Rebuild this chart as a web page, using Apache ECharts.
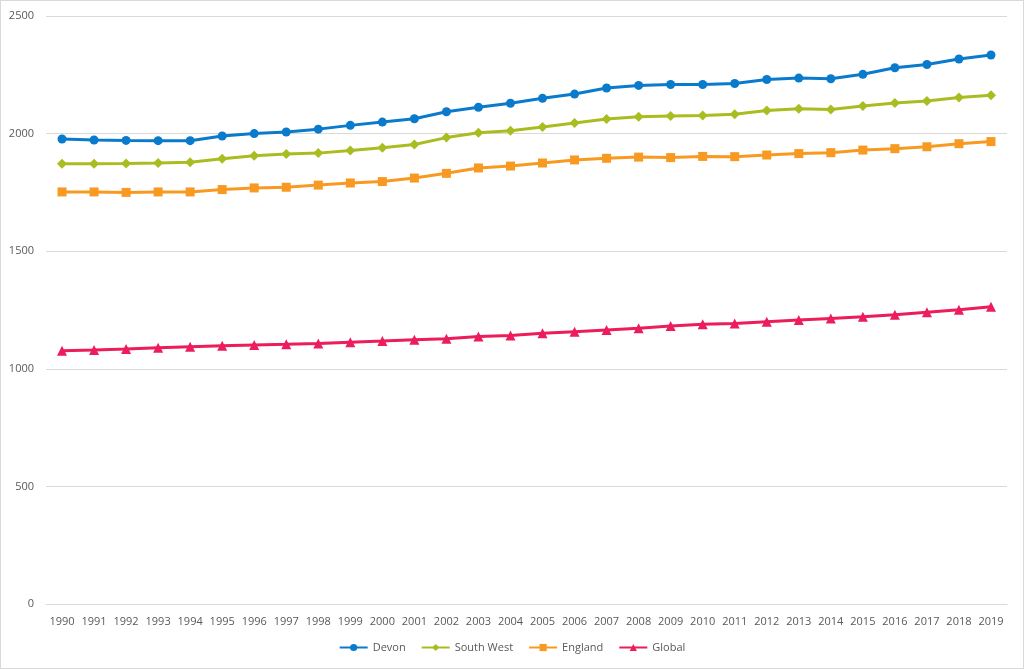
<!DOCTYPE html>
<html>
<head>
<meta charset="utf-8">
<style>
  html, body { margin: 0; padding: 0; background: #fff; }
  #chart { width: 1022px; height: 667px; border: 1px solid #d9d9d9; }
</style>
<script src="https://cdn.jsdelivr.net/npm/echarts@6/dist/echarts.min.js"></script>
</head>
<body>
<div id="chart"></div>
<script>
// years on x axis
const years = ['1990', '1991', '1992', '1993', '1994', '1995', '1996', '1997', '1998', '1999',
  '2000', '2001', '2002', '2003', '2004', '2005', '2006', '2007', '2008', '2009',
  '2010', '2011', '2012', '2013', '2014', '2015', '2016', '2017', '2018', '2019']

const devon = [1977, 1973, 1971, 1970, 1970, 1990, 2000, 2007, 2019, 2035,
  2049, 2063, 2093, 2112, 2129, 2150, 2168, 2194, 2205, 2209,
  2209, 2213, 2230, 2236, 2233, 2252, 2280, 2294, 2317, 2334]

const southWest = [1872, 1872, 1873, 1875, 1878, 1893, 1906, 1913, 1917, 1928,
  1940, 1954, 1983, 2004, 2012, 2028, 2045, 2062, 2072, 2075,
  2077, 2082, 2098, 2106, 2102, 2117, 2130, 2139, 2153, 2163]

const england = [1752, 1752, 1750, 1752, 1752, 1762, 1769, 1772, 1781, 1790,
  1796, 1811, 1831, 1854, 1862, 1875, 1888, 1895, 1900, 1898,
  1903, 1902, 1909, 1915, 1919, 1930, 1936, 1944, 1957, 1966]

const globalVals = [1077, 1080, 1084, 1090, 1094, 1098, 1101, 1104, 1108, 1113,
  1118, 1124, 1128, 1137, 1142, 1151, 1158, 1165, 1172, 1182,
  1189, 1193, 1200, 1207, 1214, 1221, 1230, 1240, 1251, 1264]

const seriesNames = ['Devon', 'South West', 'England', 'Global']

const chart = echarts.init(document.getElementById('chart'))

function lineSeries(name, data, color, symbol, size) {
  return {
    name: name,
    type: 'line',
    data: data,
    symbol: symbol,
    symbolSize: size,
    showAllSymbol: true,
    lineStyle: { color: color, width: 3 },
    itemStyle: { color: color },
    animation: false
  }
}

chart.setOption({
  textStyle: { fontFamily: 'Open Sans, Liberation Sans, sans-serif' },
  grid: {
    left: 45,
    right: 16,
    top: 15,
    bottom: 64
  },
  legend: {
    bottom: 10,
    left: 'center',
    itemWidth: 28,
    itemHeight: 9,
    itemGap: 15,
    textStyle: { color: '#595959', fontSize: 11 },
    data: seriesNames
  },
  xAxis: {
    type: 'category',
    data: years,
    boundaryGap: true,
    axisTick: { show: false },
    axisLine: { lineStyle: { color: '#d9d9d9', width: 1 } },
    axisLabel: { color: '#595959', fontSize: 11, margin: 12, interval: 0 }
  },
  yAxis: {
    type: 'value',
    min: 0,
    max: 2500,
    interval: 500,
    axisLabel: { color: '#595959', fontSize: 11, margin: 12, formatter: v => String(v) },
    splitLine: { lineStyle: { color: '#d9d9d9', width: 1 } }
  },
  series: [
    lineSeries(seriesNames[0], devon, '#0a7bcc', 'circle', 9),
    lineSeries(seriesNames[1], southWest, '#a9bd21', 'diamond', 10),
    lineSeries(seriesNames[2], england, '#f89a22', 'rect', 9),
    lineSeries(seriesNames[3], globalVals, '#ec1d5a', 'triangle', 10)
  ]
})
</script>
</body>
</html>
